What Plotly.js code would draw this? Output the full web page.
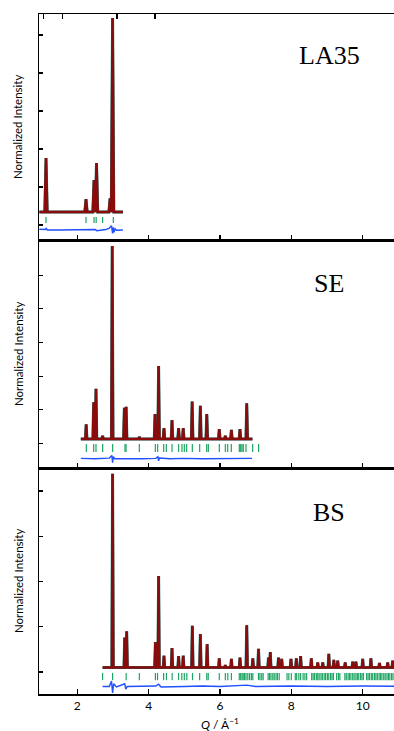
<!DOCTYPE html>
<html>
<head>
<meta charset="utf-8">
<script src="https://cdn.plot.ly/plotly-3.0.1.min.js"></script>
<style>
html,body{margin:0;padding:0;background:#fff;overflow:hidden;width:394px;height:731px;}
#plot{width:410px;height:731px;}
</style>
</head>
<body>
<div id="plot"></div>
<script>
// ---------------- DATA ----------------
const panelLabels = ["LA35", "SE", "BS"];
const yTitle = "Normalized Intensity";
const xTitle = "<i>Q</i> / Å<sup>−1</sup>";
const xTickVals = [2, 4, 6, 8, 10];

// LA35 (top panel)
const la35Start = 0.94, la35End = 3.28, la35Base = 0.34;
const la35PeakQ = [1.124, 2.245, 2.47, 2.54, 2.92, 2.99];
const la35PeakI = [1.76, 0.68, 1.18, 1.63, 0.70, 5.45];
const la35Refl = [1.124, 2.245, 2.47, 2.53, 2.71, 3.01];
const la35DiffQ = [0.94, 1.10, 1.13, 1.16, 1.50, 2.00, 2.25, 2.50, 2.55, 2.80, 2.90, 2.96, 2.99, 3.01, 3.03, 3.06, 3.10, 3.28];
const la35DiffI = [-0.11, -0.12, -0.09, -0.13, -0.13, -0.12, -0.13, -0.12, -0.15, -0.12, -0.08, -0.02, -0.22, -0.06, -0.19, -0.10, -0.14, -0.13];

// SE (middle panel)
const seStart = 2.10, seEnd = 6.91, seBase = 0.13;
const sePeakQ = [2.25, 2.46, 2.525, 2.71, 2.98, 3.32, 3.37, 3.74, 4.18, 4.28, 4.43, 4.655, 4.84, 4.97, 5.22, 5.45, 5.63, 5.98, 6.15, 6.32, 6.56, 6.75];
const sePeakI = [0.565, 1.22, 1.625, 0.22, 5.87, 1.06, 1.09, 0.19, 0.87, 2.30, 0.455, 0.69, 0.455, 0.455, 1.24, 1.12, 0.87, 0.42, 0.22, 0.40, 0.42, 1.19];
const seRefl = [2.254, 2.460, 2.525, 2.712, 2.992, 3.338, 3.366, 3.740, 4.188, 4.254, 4.422, 4.496, 4.655, 4.842, 4.935, 5.001, 5.066, 5.225, 5.431, 5.627, 5.674, 5.982, 6.150, 6.216, 6.318, 6.542, 6.580, 6.617, 6.654, 6.729, 6.916, 7.084];
const seDiffQ = [2.10, 2.50, 2.90, 2.97, 2.99, 3.01, 3.05, 3.40, 3.80, 4.20, 4.26, 4.28, 4.30, 4.60, 5.00, 5.50, 6.00, 6.50, 6.90];
const seDiffI = [-0.45, -0.46, -0.44, -0.36, -0.58, -0.40, -0.46, -0.45, -0.46, -0.45, -0.40, -0.52, -0.44, -0.46, -0.45, -0.46, -0.45, -0.44, -0.45];

// BS (bottom panel)
const bsStart = 2.71, bsEnd = 11.40, bsBase = 0.10;
const bsPeakQ = [2.99, 3.33, 3.385, 4.19, 4.28, 4.43, 4.655, 4.84, 4.97, 5.225, 5.45, 5.64, 5.98, 6.15, 6.32, 6.56, 6.75, 6.92, 7.08, 7.36, 7.41, 7.64, 7.73, 7.99, 8.14, 8.26, 8.56, 8.74, 8.88, 9.05, 9.19, 9.30, 9.51, 9.72, 9.81, 10.00, 10.23, 10.47, 10.70, 10.84, 11.05];
const bsPeakI = [4.38, 0.76, 0.90, 0.66, 2.12, 0.36, 0.53, 0.35, 0.36, 1.02, 0.84, 0.62, 0.30, 0.15, 0.29, 0.32, 1.03, 0.30, 0.51, 0.32, 0.44, 0.32, 0.29, 0.29, 0.30, 0.35, 0.30, 0.21, 0.21, 0.40, 0.27, 0.25, 0.21, 0.23, 0.23, 0.29, 0.30, 0.20, 0.21, 0.25, 0.22];
const bsRefl = [2.71, 2.99, 3.37, 3.74, 4.19, 4.25, 4.42, 4.50, 4.66, 4.84, 4.93, 5.00, 5.07, 5.23, 5.43, 5.63, 5.67, 5.98, 6.15, 6.22, 6.32, 6.54, 6.58, 6.62, 6.65, 6.69, 6.73, 6.78, 6.83, 6.88, 6.92, 7.08, 7.12, 7.17, 7.21, 7.35, 7.39, 7.43, 7.48, 7.52, 7.57, 7.61, 7.66, 7.88, 7.93, 8.00, 8.11, 8.15, 8.21, 8.26, 8.33, 8.38, 8.43, 8.57, 8.61, 8.65, 8.70, 8.74, 8.78, 8.83, 8.87, 8.92, 8.96, 9.01, 9.05, 9.10, 9.14, 9.18, 9.27, 9.32, 9.36, 9.50, 9.54, 9.59, 9.63, 9.67, 9.72, 9.76, 9.81, 9.85, 9.89, 9.94, 9.98, 10.02, 10.11, 10.15, 10.19, 10.24, 10.28, 10.33, 10.37, 10.41, 10.46, 10.50, 10.54, 10.59, 10.63, 10.68, 10.72, 10.76, 10.81, 10.85, 10.90, 10.95, 11.00];
const bsDiffQ = [2.71, 2.90, 2.96, 2.99, 3.02, 3.10, 3.33, 3.36, 3.40, 3.80, 4.20, 4.28, 4.35, 5.00, 5.50, 6.00, 6.50, 6.75, 7.00, 8.00, 9.00, 10.00, 11.40];
const bsDiffI = [-0.32, -0.32, -0.20, -0.46, -0.26, -0.33, -0.26, -0.38, -0.32, -0.32, -0.31, -0.27, -0.33, -0.32, -0.31, -0.32, -0.31, -0.29, -0.32, -0.31, -0.32, -0.31, -0.32];

// ---------------- STYLE / GEOMETRY ----------------
const C_OBS = "#8b0a0a", C_CALC = "#127d7a", C_REFL = "#1ea463", C_DIFF = "#2150ff";
const PX0 = 5.9, PXU = 35.68;          // pixel mapping for x range
const L = 39, R_EDGE = 410, TOP = 14, BOT = 694, H = 731;
const xRange = [(L - PX0) / PXU, (R_EDGE - PX0) / PXU];
const pw = R_EDGE - L, ph = BOT - TOP;
const yf = py => (BOT - py) / ph;
const xf = px => (px - L) / pw;
const panels = [
  {top: 14, bot: 240, zeroPx: 225, unit: 38.0, ticks: [0,1,2,3,4,5]},
  {top: 240, bot: 468, zeroPx: 443.3, unit: 33.6, ticks: [0,1,2,3,4,5,6]},
  {top: 468, bot: 694, zeroPx: 672, unit: 45.25, ticks: [0,1,2,3,4]}
];
const HW = [0.034, 0.022, 0.02];

function profile(start, end, base, pq, pi, hw) {
  const x = [start], y = [base];
  pq.forEach((q, k) => { x.push(q - hw, q, q + hw); y.push(base, pi[k], base); });
  x.push(end); y.push(base);
  return {x, y};
}
function reflTicks(list, y0, y1) {
  const x = [], y = [];
  list.forEach(q => { x.push(q, q, null); y.push(y0, y1, null); });
  return {x, y};
}

const sets = [
  {ax: ["x3", "y3"], start: la35Start, end: la35End, base: la35Base, pq: la35PeakQ, pi: la35PeakI, refl: la35Refl, r: [0.21, 0.05], dq: la35DiffQ, di: la35DiffI, hw: HW[0]},
  {ax: ["x2", "y2"], start: seStart, end: seEnd, base: seBase, pq: sePeakQ, pi: sePeakI, refl: seRefl, r: [-0.02, -0.26], dq: seDiffQ, di: seDiffI, hw: HW[1]},
  {ax: ["x", "y"], start: bsStart, end: bsEnd, base: bsBase, pq: bsPeakQ, pi: bsPeakI, refl: bsRefl, r: [-0.02, -0.18], dq: bsDiffQ, di: bsDiffI, hw: HW[2]}
];

const traces = [];
sets.forEach(s => {
  const p = profile(s.start, s.end, s.base, s.pq, s.pi, s.hw);
  traces.push({x: p.x, y: p.y, xaxis: s.ax[0], yaxis: s.ax[1], type: "scatter", mode: "lines",
    line: {color: C_CALC, width: 3.0}, hoverinfo: "skip"});
  traces.push({x: p.x, y: p.y, xaxis: s.ax[0], yaxis: s.ax[1], type: "scatter", mode: "lines",
    line: {color: C_OBS, width: 2.5}, hoverinfo: "skip"});
  const t = reflTicks(s.refl, s.r[0], s.r[1]);
  traces.push({x: t.x, y: t.y, xaxis: s.ax[0], yaxis: s.ax[1], type: "scatter", mode: "lines",
    line: {color: C_REFL, width: 1.2}, hoverinfo: "skip"});
  traces.push({x: s.dq, y: s.di, xaxis: s.ax[0], yaxis: s.ax[1], type: "scatter", mode: "lines",
    line: {color: C_DIFF, width: 1.4}, hoverinfo: "skip"});
});

function xAxis(anchor, labels) {
  return {anchor, range: xRange, domain: [0, 1], tickvals: xTickVals, ticks: "inside", ticklen: 5,
    tickwidth: 1.5, tickcolor: "#000", showline: true, linewidth: 1.5, linecolor: "#000", mirror: true,
    showgrid: false, zeroline: false, showticklabels: labels,
    tickfont: {family: "Lato, 'Open Sans', sans-serif", size: 12, color: "#000"}};
}
function yAxis(p) {
  const lo = -(p.bot - p.zeroPx) / p.unit, hi = (p.zeroPx - p.top) / p.unit;
  return {domain: [yf(p.bot), yf(p.top)], range: [lo, hi], tickvals: p.ticks, ticks: "inside", ticklen: 4,
    tickwidth: 1.2, tickcolor: "#000", showline: true, linewidth: 1.5, linecolor: "#000", mirror: true,
    showgrid: false, zeroline: false, showticklabels: false};
}

const annotations = [];
const labelY = [55, 283, 512];
panelLabels.forEach((t, k) => annotations.push({text: t, xref: "paper", yref: "paper", x: xf(329), y: yf(labelY[k]),
  xanchor: "center", yanchor: "middle", showarrow: false,
  font: {family: "'Liberation Serif', 'DejaVu Serif', serif", size: 26, color: "#000"}}));
panels.forEach(p => annotations.push({text: yTitle, xref: "paper", yref: "paper", x: xf(18), y: yf((p.top + p.bot) / 2),
  xanchor: "center", yanchor: "middle", textangle: -90, showarrow: false,
  font: {family: "Lato, 'Open Sans', sans-serif", size: 11.5, color: "#000"}}));
annotations.push({text: xTitle, xref: "paper", yref: "paper", x: xf(220), y: yf(724), xanchor: "center", yanchor: "middle",
  showarrow: false, font: {family: "Lato, 'Open Sans', sans-serif", size: 12, color: "#000"}});

const layout = {
  width: R_EDGE, height: H, margin: {l: L, r: 0, t: TOP, b: H - BOT, pad: 0},
  paper_bgcolor: "#fff", plot_bgcolor: "#fff", showlegend: false,
  xaxis: xAxis("y", true), xaxis2: xAxis("y2", false), xaxis3: xAxis("y3", false),
  xaxis4: {overlaying: "x3", anchor: "y3", side: "top", range: xRange, tickvals: [1.05, 1.58, 3.12, 4.18],
    ticks: "inside", ticklen: 5, tickwidth: 1.5, tickcolor: "#000", showline: false, showgrid: false,
    zeroline: false, showticklabels: false},
  yaxis: yAxis(panels[2]), yaxis2: yAxis(panels[1]), yaxis3: yAxis(panels[0]),
  annotations
};
traces.push({x: [xRange[0]], y: [0], xaxis: "x4", yaxis: "y3", mode: "markers", marker: {opacity: 0}, hoverinfo: "skip"});

Plotly.newPlot("plot", traces, layout, {displayModeBar: false, staticPlot: true});
</script>
</body>
</html>
